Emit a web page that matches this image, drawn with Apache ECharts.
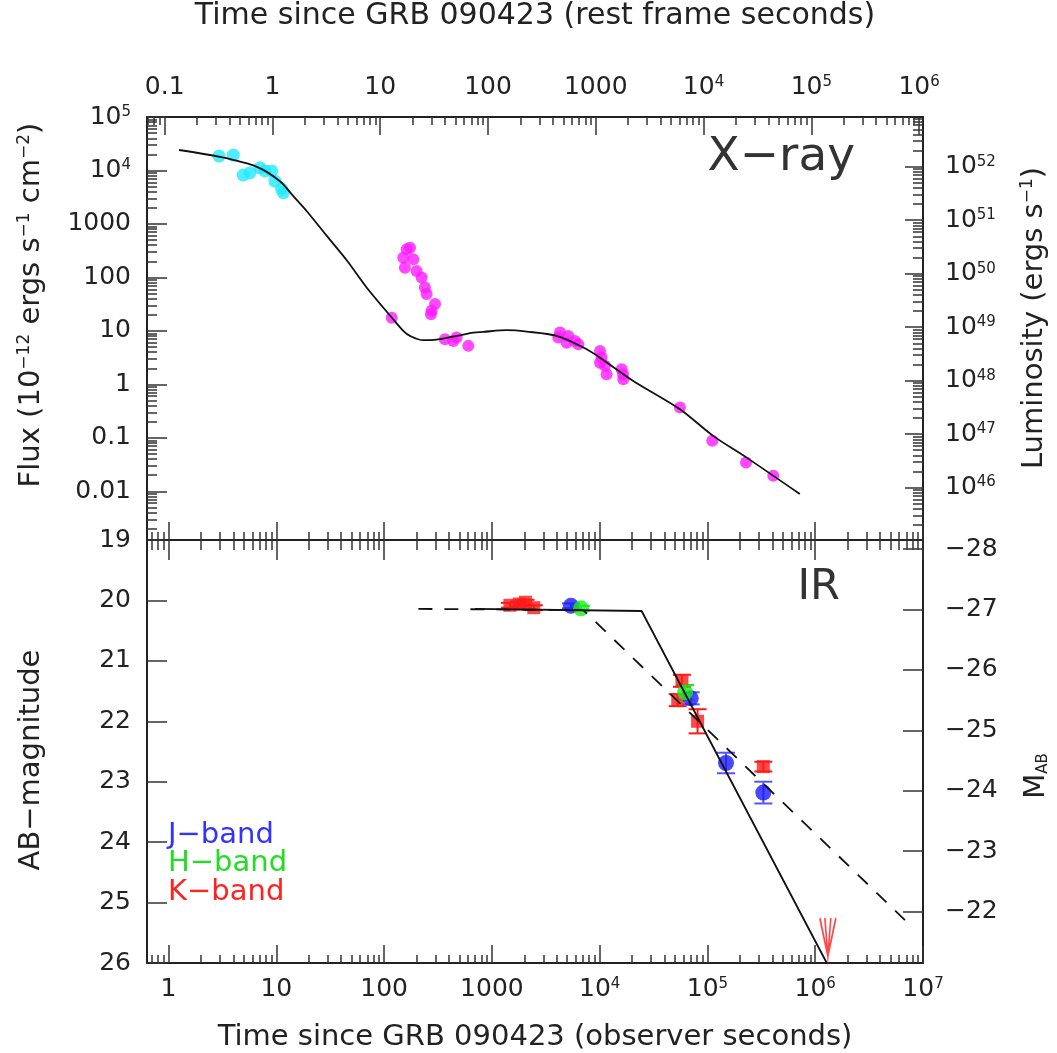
<!DOCTYPE html>
<html><head><meta charset="utf-8">
<script src="https://cdn.jsdelivr.net/npm/echarts@6/dist/echarts.min.js"></script>
<style>html,body{margin:0;padding:0;background:#fff}#c{width:1057px;height:1053px}</style>
</head><body><div id="c"></div>
<script>
// ---------------- DATA ----------------
// X-ray: observer time (s) and flux (1e-12 erg s^-1 cm^-2)
const xrayEarlyT = [2.94, 3.99, 4.93, 5.7, 7.05, 7.85, 9.06, 9.7, 11.2, 11.6];
const xrayEarlyF = [18600, 19400, 8200, 9100, 11200, 9800, 9800, 6300, 4500, 3850];
const xrayLateT = [117.6, 150.7, 156, 162, 174, 186.7, 200, 223, 239, 248, 272, 276, 297, 367, 438, 471, 604,
  4130, 4285, 4940, 5115, 5900, 6340, 10070, 10440, 10070, 11200, 11600, 16000, 16560, 16500, 55600, 111000, 228000, 408000];
const xrayLateF = [17.7, 234, 151, 337, 360, 219, 132, 100, 65, 49, 20.5, 23.7, 32, 7.0, 6.5, 7.5, 5.25,
  7.5, 9.3, 6.0, 8.06, 6.5, 5.6, 4.2, 3.17, 2.55, 2.22, 1.55, 1.92, 1.25, 1.55, 0.369, 0.088, 0.0347, 0.0195];
const xrayModelT = [1.25, 3.0, 6.6, 10.8, 14.4, 19.1, 29.4, 45, 68.8, 117.6, 150.6, 174, 231, 266, 330, 471, 673, 832, 1370, 2100, 3990, 7050, 10070, 20500, 55600, 113000, 231000, 720000];
const xrayModelF = [24150, 17900, 11700, 6300, 3300, 1750, 597, 210, 65, 17.8, 10, 8.06, 6.7, 6.7, 7.0, 8.06, 9.3, 9.6, 10.3, 9.7, 8.06, 4.88, 3.16, 1.16, 0.343, 0.109, 0.0427, 0.0089];

// IR: observer time (s), AB magnitude, error
const kT = [1470, 1800, 2050, 2450, 53000, 58000, 81000, 330000];
const kMag = [20.08, 20.06, 20.03, 20.12, 21.65, 21.33, 22.0, 22.75];
const kErr = [0.04, 0.04, 0.04, 0.04, 0.1, 0.1, 0.2, 0.08];
const jT = [5420, 70000, 148600, 330000];
const jMag = [20.09, 21.62, 22.69, 23.18];
const jErr = [0.04, 0.1, 0.17, 0.18];
const hT = [6710, 62000];
const hMag = [20.13, 21.52];
const hErr = [0.04, 0.12];
const kLimitT = [1310000];
const kLimitMag = [25.57];
const irSolidT = [697, 24500, 1280000];
const irSolidMag = [20.14, 20.175, 26.0];
const irDashT = [208, 7050, 6800000];
const irDashMag = [20.14, 20.16, 25.29];

// tick values / labels
const obsTickExp = [0, 1, 2, 3, 4, 5, 6, 7];
const obsTickLabels = ['1', '10', '100', '1000', '10^4', '10^5', '10^6', '10^7'];
const restTickExp = [-1, 0, 1, 2, 3, 4, 5, 6];
const restTickLabels = ['0.1', '1', '10', '100', '1000', '10^4', '10^5', '10^6'];
const fluxTickExp = [-2, -1, 0, 1, 2, 3, 4, 5];
const fluxTickLabels = ['0.01', '0.1', '1', '10', '100', '1000', '10^4', '10^5'];
const lumTickExp = [46, 47, 48, 49, 50, 51, 52];
const lumTickLabels = ['10^46', '10^47', '10^48', '10^49', '10^50', '10^51', '10^52'];
const magTicks = [19, 20, 21, 22, 23, 24, 25, 26];
const magTickLabels = ['19', '20', '21', '22', '23', '24', '25', '26'];
const absMagTicks = [-28, -27, -26, -25, -24, -23, -22];
const absMagTickLabels = ['−28', '−27', '−26', '−25', '−24', '−23', '−22'];

// ---------------- SETUP ----------------
const FONT = 'DejaVu Sans';
const TXT = '#222';
const lg = Math.log10;
const LOG_1PZ = lg(9.2);          // rest frame = observer / (1+z)
const LUM_OFFSET = 47.93;         // log L = log F + offset
const X_MIN = -0.2, X_MAX = 7;
const F_MIN = -2.91, F_MAX = 5;

function minors(lo, hi) {
  const out = [];
  for (let n = Math.floor(lo) - 1; n <= Math.ceil(hi); n++)
    for (let k = 2; k <= 9; k++) { const v = n + lg(k); if (v > lo + 1e-6 && v < hi - 1e-6) out.push(v); }
  return out;
}
function majors(lo, hi) { const o = []; for (let n = Math.ceil(lo - 1e-9); n <= Math.floor(hi + 1e-9); n++) o.push(n); return o; }
function richLabel(s) {
  const i = s.indexOf('^');
  if (i < 0) return '{b|' + s + '}';
  return '{b|' + s.slice(0, i) + '}{s|' + s.slice(i + 1) + '}';
}
function makeFmt(vals, labels) {
  return v => { for (let i = 0; i < vals.length; i++) if (Math.abs(vals[i] - v) < 1e-6) return richLabel(labels[i]); return ''; };
}
const RICH = {
  b: { fontFamily: FONT, fontSize: 25, color: TXT },
  s: { fontFamily: FONT, fontSize: 15, color: TXT, verticalAlign: 'top' }
};
function ax(o) {
  const a = {
    type: 'value', gridIndex: o.grid, position: o.pos, min: o.min, max: o.max, inverse: !!o.inverse,
    splitLine: { show: false },
    axisLine: { show: o.line !== false, onZero: false, lineStyle: { color: '#222', width: 2 } },
    axisTick: { show: true, inside: true, length: o.len, customValues: o.ticks, lineStyle: { color: '#333', width: 1.5 } },
    axisLabel: o.fmt ? { show: true, customValues: o.ticks, formatter: o.fmt, margin: o.margin, fontSize: 25, fontFamily: FONT, color: TXT, rich: RICH } : { show: false }
  };
  if (o.name) {
    a.name = o.name; a.nameLocation = 'middle'; a.nameGap = o.nameGap;
    a.nameTextStyle = { fontFamily: FONT, fontSize: o.nameSize || 29, color: TXT };
  }
  return a;
}

const restMin = X_MIN - LOG_1PZ, restMax = X_MAX - LOG_1PZ;
const xAxes = [
  // grid 0
  ax({ grid: 0, pos: 'bottom', min: X_MIN, max: X_MAX, len: 18, ticks: majors(X_MIN, X_MAX) }),
  ax({ grid: 0, pos: 'bottom', min: X_MIN, max: X_MAX, len: 8, ticks: minors(X_MIN, X_MAX), line: false }),
  ax({ grid: 0, pos: 'top', min: restMin, max: restMax, len: 18, ticks: restTickExp, fmt: makeFmt(restTickExp, restTickLabels), margin: 17,
       name: 'Time since GRB 090423 (rest frame seconds)', nameGap: 86, nameSize: 30 }),
  ax({ grid: 0, pos: 'top', min: restMin, max: restMax, len: 8, ticks: minors(restMin, restMax), line: false }),
  // grid 1
  ax({ grid: 1, pos: 'bottom', min: X_MIN, max: X_MAX, len: 18, ticks: obsTickExp, fmt: makeFmt(obsTickExp, obsTickLabels), margin: 14,
       name: 'Time since GRB 090423 (observer seconds)', nameGap: 60 }),
  ax({ grid: 1, pos: 'bottom', min: X_MIN, max: X_MAX, len: 8, ticks: minors(X_MIN, X_MAX), line: false }),
  ax({ grid: 1, pos: 'top', min: X_MIN, max: X_MAX, len: 20, ticks: majors(X_MIN, X_MAX) }),
  ax({ grid: 1, pos: 'top', min: X_MIN, max: X_MAX, len: 10, ticks: minors(X_MIN, X_MAX), line: false })
];
const lumMin = F_MIN + LUM_OFFSET, lumMax = F_MAX + LUM_OFFSET;
const yAxes = [
  ax({ grid: 0, pos: 'left', min: F_MIN, max: F_MAX, len: 20, ticks: fluxTickExp, fmt: makeFmt(fluxTickExp, fluxTickLabels), margin: 16 }),
  ax({ grid: 0, pos: 'left', min: F_MIN, max: F_MAX, len: 10, ticks: minors(F_MIN, F_MAX), line: false }),
  ax({ grid: 0, pos: 'right', min: lumMin, max: lumMax, len: 18, ticks: lumTickExp, fmt: makeFmt(lumTickExp, lumTickLabels), margin: 22 }),
  ax({ grid: 0, pos: 'right', min: lumMin, max: lumMax, len: 10, ticks: minors(lumMin, lumMax), line: false }),
  ax({ grid: 1, pos: 'left', min: 19, max: 26, inverse: true, len: 20, ticks: magTicks, fmt: makeFmt(magTicks, magTickLabels), margin: 16 }),
  ax({ grid: 1, pos: 'right', min: 19 - 47.15, max: 26 - 47.15, inverse: true, len: 20, ticks: absMagTicks, fmt: makeFmt(absMagTicks, absMagTickLabels), margin: 22 })
];

const toLL = (T, F) => T.map((t, i) => [lg(t), lg(F[i])]);
const toLM = (T, M) => T.map((t, i) => [lg(t), M[i]]);
const toLME = (T, M, E) => T.map((t, i) => [lg(t), M[i], E[i]]);

function errRender(color) {
  return function (params, api) {
    const x = api.value(0), y = api.value(1), e = api.value(2);
    const p1 = api.coord([x, y - e]), p2 = api.coord([x, y + e]);
    const w = 9;
    const st = { stroke: color, lineWidth: 2 };
    return { type: 'group', children: [
      { type: 'line', shape: { x1: p1[0], y1: p1[1], x2: p2[0], y2: p2[1] }, style: st },
      { type: 'line', shape: { x1: p1[0] - w, y1: p1[1], x2: p1[0] + w, y2: p1[1] }, style: st },
      { type: 'line', shape: { x1: p2[0] - w, y1: p2[1], x2: p2[0] + w, y2: p2[1] }, style: st }
    ] };
  };
}

const RED = '#ff1a1a', BLUE = '#1a1aff', GREEN = '#1aee1a', CYAN = '#22e8ff', MAG = '#ff1aff';

const series = [
  { type: 'scatter', xAxisIndex: 0, yAxisIndex: 0, data: toLL(xrayEarlyT, xrayEarlyF), symbol: 'circle', symbolSize: 13, itemStyle: { color: CYAN }, z: 3 },
  { type: 'scatter', xAxisIndex: 0, yAxisIndex: 0, data: toLL(xrayLateT, xrayLateF), symbol: 'circle', symbolSize: 12, itemStyle: { color: MAG }, z: 3 },
  { type: 'line', xAxisIndex: 0, yAxisIndex: 0, data: toLL(xrayModelT, xrayModelF), showSymbol: false, smooth: 0.3,
    lineStyle: { color: '#111', width: 1.8 }, z: 5, silent: true },

  { type: 'custom', xAxisIndex: 4, yAxisIndex: 4, data: toLME(kT, kMag, kErr), renderItem: errRender(RED), z: 3 },
  { type: 'scatter', xAxisIndex: 4, yAxisIndex: 4, data: toLM(kT, kMag), symbol: 'rect', symbolSize: 13, itemStyle: { color: RED }, z: 3 },
  { type: 'custom', xAxisIndex: 4, yAxisIndex: 4, data: toLME(jT, jMag, jErr), renderItem: errRender('#5555ff'), z: 3 },
  { type: 'scatter', xAxisIndex: 4, yAxisIndex: 4, data: toLM(jT, jMag), symbol: 'circle', symbolSize: 16, itemStyle: { color: BLUE }, z: 3 },
  { type: 'custom', xAxisIndex: 4, yAxisIndex: 4, data: toLME(hT, hMag, hErr), renderItem: errRender(GREEN), z: 3 },
  { type: 'scatter', xAxisIndex: 4, yAxisIndex: 4, data: toLM(hT, hMag), symbol: 'circle', symbolSize: 16, itemStyle: { color: GREEN }, z: 3 },
  { type: 'scatter', xAxisIndex: 4, yAxisIndex: 4, data: toLM(kLimitT, kLimitMag), symbol: 'path://M0,0 L8,40 L16,0 M5,0 L8,40 L11,0', symbolSize: [16, 38],
    itemStyle: { color: 'rgba(0,0,0,0)', borderColor: RED, borderWidth: 2.5 }, z: 3 },
  { type: 'line', xAxisIndex: 4, yAxisIndex: 4, data: toLM(irSolidT, irSolidMag), showSymbol: false, lineStyle: { color: '#111', width: 1.8 }, z: 5, silent: true },
  { type: 'line', xAxisIndex: 4, yAxisIndex: 4, data: toLM(irDashT, irDashMag), showSymbol: false, lineStyle: { color: '#111', width: 1.8, type: [14, 12] }, z: 5, silent: true }
];

const TS = { fontFamily: FONT, fill: TXT };
const SUP = { fontFamily: FONT, fontSize: 17, fill: TXT, verticalAlign: 'top' };
const graphic = [
  { type: 'text', x: 31, y: 305, rotation: Math.PI / 2, style: Object.assign({}, TS, { text: 'Flux (10{s|−12} ergs s{s|−1} cm{s|−2})', fontSize: 29, align: 'center', verticalAlign: 'middle', rich: { s: SUP } }) },
  { type: 'text', x: 31, y: 760, rotation: Math.PI / 2, style: Object.assign({}, TS, { text: 'AB−magnitude', fontSize: 29, align: 'center', verticalAlign: 'middle' }) },
  { type: 'text', x: 1034, y: 318, rotation: Math.PI / 2, style: Object.assign({}, TS, { text: 'Luminosity (ergs s{s|−1})', fontSize: 29, align: 'center', verticalAlign: 'middle', rich: { s: SUP } }) },
  { type: 'text', x: 1036, y: 776, rotation: Math.PI / 2, style: Object.assign({}, TS, { text: 'M{sub|AB}', fontSize: 29, align: 'center', verticalAlign: 'middle',
      rich: { sub: { fontFamily: FONT, fontSize: 15, fill: TXT, verticalAlign: 'bottom' } } }) },
  { type: 'text', x: 855, y: 158, style: Object.assign({}, TS, { text: 'X−ray', fontSize: 47, fill: '#333', align: 'right', verticalAlign: 'middle' }) },
  { type: 'text', x: 840, y: 588, style: Object.assign({}, TS, { text: 'IR', fontSize: 43, fill: '#333', align: 'right', verticalAlign: 'middle' }) },
  { type: 'text', x: 168, y: 835, style: { text: 'J−band', fontFamily: FONT, fontSize: 29, fill: '#3333ff', align: 'left', verticalAlign: 'middle' } },
  { type: 'text', x: 168, y: 863, style: { text: 'H−band', fontFamily: FONT, fontSize: 29, fill: '#22dd22', align: 'left', verticalAlign: 'middle' } },
  { type: 'text', x: 168, y: 892, style: { text: 'K−band', fontFamily: FONT, fontSize: 29, fill: '#ff2222', align: 'left', verticalAlign: 'middle' } }
];

const chart = echarts.init(document.getElementById('c'), null, { renderer: 'canvas' });
chart.setOption({
  backgroundColor: '#fff',
  animation: false,
  grid: [
    { left: 147, top: 116, width: 776, height: 424 },
    { left: 147, top: 540, width: 776, height: 423 }
  ],
  xAxis: xAxes,
  yAxis: yAxes,
  series: series,
  graphic: graphic
});
</script>
</body></html>
